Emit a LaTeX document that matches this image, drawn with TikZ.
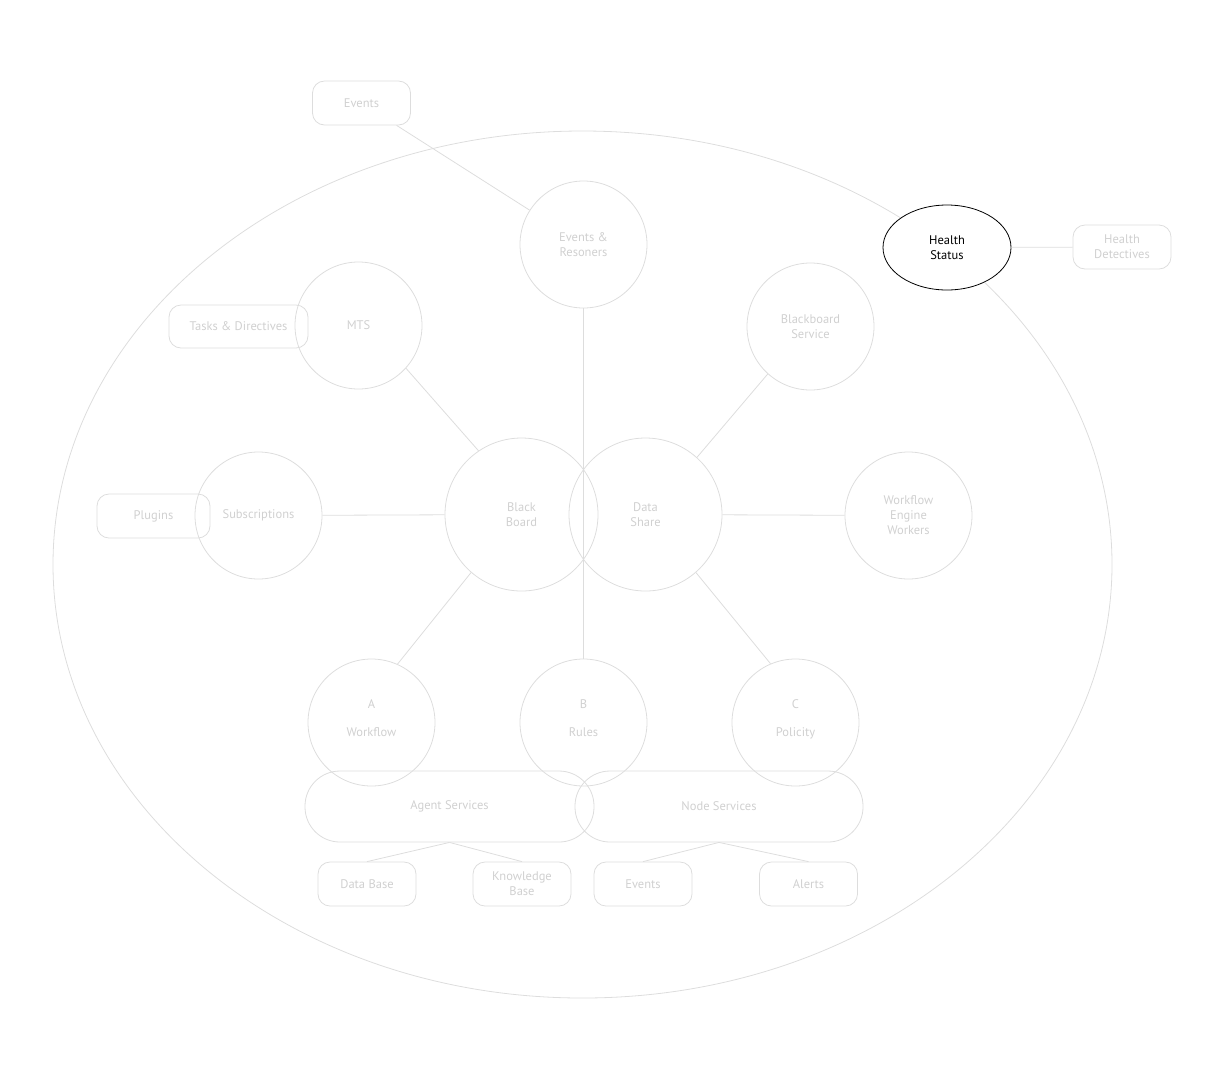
\documentclass[tikz,border=0pt]{standalone}
\usepackage{fontspec}
\setmainfont{PT Sans}
\usetikzlibrary{positioning,shapes.geometric}
\definecolor{linegray}{HTML}{DDDDDD}
\definecolor{textgray}{HTML}{D0D0D0}
\newcommand{\diagfont}{\fontsize{12.5}{15}\selectfont}
\tikzset{
  link/.style={draw=linegray,line width=0.8pt},
  bubble/.style={circle,draw=linegray,line width=0.8pt,minimum size=127pt,inner sep=0pt,align=center,text=textgray,font=\diagfont},
  bigbubble/.style={bubble,minimum size=153pt},
  tag/.style={draw=linegray,line width=0.8pt,rounded corners=12pt,minimum width=98pt,minimum height=44pt,inner sep=2pt,align=center,text=textgray,font=\diagfont},
  pill/.style={tag,rounded corners=35pt,minimum width=289pt,minimum height=71pt},
  status/.style={ellipse,draw=black,fill=white,line width=0.8pt,minimum width=128pt,minimum height=85pt,inner sep=0pt,align=center,font=\diagfont}
}
\begin{document}
\begin{tikzpicture}[x=1pt,y=-1pt]
\useasboundingbox (0,0) rectangle (1225,1080);
% outer boundary
\draw[link] (582.5,564.5) ellipse [x radius=529.5, y radius=433.5];

% centre pair
\node[bigbubble] (bb) at (521.5,514.5) {Black\\Board};
\node[bigbubble] (ds) at (645.5,514.5) {Data\\Share};

% ring of services
\node[bubble] (er)  at (583.5,244.5) {Events \&\\Resoners};
\node[bubble] (mts) at (358.5,325.5) {MTS};
\node[bubble] (sub) at (258.5,515.5) {Subscriptions};
\node[bubble] (bs)  at (810.5,326.5) {Blackboard\\Service};
\node[bubble] (wf)  at (908.5,515.5) {Workflow\\Engine\\Workers};
\node[bubble] (wa)  at (371.5,722.5) {A\\[13pt]Workflow\\[-7pt]};
\node[bubble] (rb)  at (583.5,722.5) {B\\[13pt]Rules\\[-7pt]};
\node[bubble] (pc)  at (795.5,722.5) {C\\[13pt]Policity\\[-7pt]};

% side tags
\node[tag] (ev)  at (361.5,103) {Events};
\node[tag,minimum width=139pt,minimum height=43pt] (td) at (238.5,326.5) {Tasks \& Directives};
\node[tag,minimum width=113pt] (pl) at (153.5,516) {Plugins};
\node[tag] (hd)  at (1122,247) {Health\\Detectives};

% health status
\node[status] (hs) at (947,247.5) {Health\\Status};

% services bar
\node[pill] (as) at (449.5,806.5) {Agent Services};
\node[pill,minimum width=288pt] (ns) at (719,806.5) {Node Services};

% stores
\node[tag] (db) at (367,884) {Data Base};
\node[tag] (kb) at (522,884) {Knowledge\\Base};
\node[tag] (ev2) at (643,884) {Events};
\node[tag] (al) at (808.5,884) {Alerts};

% connectors
\draw[link] (ev) -- (er);
\draw[link] (er) -- (rb);
\draw[link] (mts.-42) -- (bb.124);
\draw[link] (sub) -- (bb);
\draw[link] (bb.229) -- (wa.66);
\draw[link] (bs.228) -- (ds.48);
\draw[link] (wf) -- (ds);
\draw[link] (ds.-49) -- (pc.113);
\draw[link] (hs) -- (hd);
\draw[link] (as.south) -- (db.north);
\draw[link] (as.south) -- (kb.north);
\draw[link] (ns.south) -- (ev2.north);
\draw[link] (ns.south) -- (al.north);
\end{tikzpicture}
\end{document}
